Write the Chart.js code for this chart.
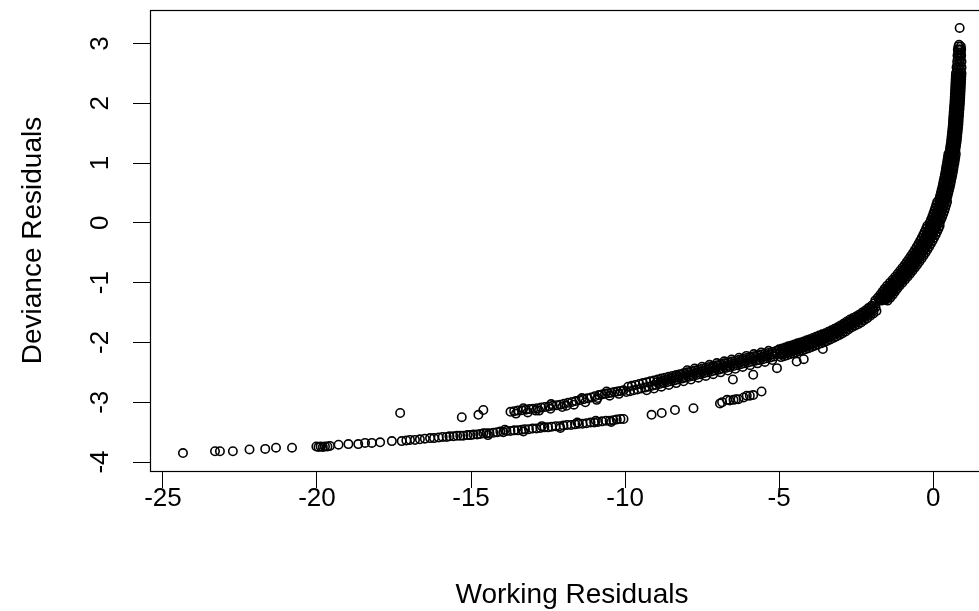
<!DOCTYPE html>
<html>
<head>
<meta charset="utf-8">
<script src="https://cdn.jsdelivr.net/npm/chart.js@4.4.1/dist/chart.umd.min.js"></script>
<style>
  html, body { margin: 0; padding: 0; background: #fff; overflow: hidden; }
  #wrap { width: 1000px; height: 611px; }
</style>
</head>
<body>
<div id="wrap"><canvas id="c" width="1000" height="611"></canvas></div>
<script>
// Axis ticks and limits
const xTicks = [-25, -20, -15, -10, -5, 0];
const yTicks = [-4, -3, -2, -1, 0, 1, 2, 3];
const xLimits = [-25.42, 1.975];
const yLimits = [-4.15, 3.56];

// [working residual, deviance residual] pairs, grouped by region of the cloud
const lowerTail = [
  [-24.35,-3.85],[-23.31,-3.82],[-23.15,-3.82],[-22.73,-3.82],[-22.19,-3.79],[-21.68,-3.78],
  [-21.33,-3.76],[-20.81,-3.76],[-20.02,-3.74],[-19.95,-3.75],[-19.88,-3.74],[-19.81,-3.75],
  [-19.74,-3.74],[-19.66,-3.74],[-19.58,-3.73],[-19.30,-3.71],[-18.98,-3.70],[-18.66,-3.70],
  [-18.44,-3.68],[-18.22,-3.68],[-17.95,-3.67],[-17.57,-3.65],[-17.25,-3.65],[-17.10,-3.64],
  [-16.98,-3.63],[-16.82,-3.63],[-16.66,-3.62],[-16.50,-3.61],[-16.33,-3.60]
];

const lowerBranch = [
  [-16.20,-3.60],[-16.05,-3.59],[-15.92,-3.58],[-15.79,-3.58],[-15.70,-3.57],[-15.57,-3.57],
  [-15.45,-3.56],[-15.35,-3.56],[-15.25,-3.56],[-15.12,-3.55],[-15.02,-3.55],[-14.92,-3.54],
  [-14.80,-3.54],[-14.70,-3.53],[-14.60,-3.52],[-14.50,-3.52],[-14.40,-3.52],[-14.27,-3.51],
  [-14.15,-3.50],[-14.05,-3.49],[-13.95,-3.50],[-13.85,-3.48],[-13.72,-3.48],[-13.60,-3.47],
  [-13.48,-3.47],[-13.35,-3.46],[-13.25,-3.45],[-13.12,-3.45],[-13.00,-3.44],[-12.88,-3.44],
  [-12.75,-3.43],[-12.62,-3.42],[-12.50,-3.42],[-12.38,-3.41],[-12.25,-3.40],[-12.12,-3.40],
  [-12.00,-3.39],[-11.88,-3.38],[-11.75,-3.38],[-11.62,-3.37],[-11.50,-3.36],[-11.38,-3.36],
  [-11.25,-3.35],[-11.12,-3.34],[-11.00,-3.34],[-10.88,-3.33],[-10.75,-3.32],[-10.62,-3.31],
  [-10.50,-3.31],[-10.38,-3.30],[-10.27,-3.29],[-10.15,-3.28],[-10.05,-3.28],
  [-14.45,-3.55],[-13.90,-3.46],[-13.30,-3.49],[-12.70,-3.40],[-12.10,-3.43],[-11.55,-3.34],
  [-10.95,-3.31],[-10.45,-3.33]
];

const lowerSplit = [
  [-9.14,-3.21],[-8.81,-3.18],[-8.38,-3.13],[-7.78,-3.10],[-6.92,-3.02],[-6.85,-3.00],
  [-6.69,-2.96],[-6.60,-2.97],[-6.48,-2.96],[-6.40,-2.95],[-6.32,-2.95],[-6.15,-2.92],
  [-6.05,-2.89],[-5.95,-2.89],[-5.84,-2.88],[-5.57,-2.82]
];

const upperBranch = [
  [-13.72,-3.16],[-13.60,-3.15],[-13.48,-3.14],[-13.35,-3.135],[-13.22,-3.125],[-13.10,-3.115],
  [-12.98,-3.11],[-12.85,-3.10],[-12.72,-3.09],[-12.60,-3.08],[-12.48,-3.07],[-12.35,-3.06],
  [-12.22,-3.05],[-12.10,-3.04],[-11.98,-3.025],[-11.85,-3.01],[-11.72,-2.995],[-11.60,-2.98],
  [-11.48,-2.965],[-11.35,-2.95],[-11.22,-2.935],[-11.10,-2.92],[-10.98,-2.90],[-10.85,-2.88],
  [-10.75,-2.87],[-10.65,-2.86],[-10.55,-2.85],[-10.45,-2.84],[-10.35,-2.83],[-10.25,-2.82],
  [-10.15,-2.81],[-10.05,-2.80],
  [-13.30,-3.10],[-12.90,-3.14],[-12.40,-3.03],[-11.90,-3.06],[-11.40,-2.93],[-10.90,-2.93],
  [-10.60,-2.82],
  [-13.54,-3.19],[-13.16,-3.17],[-12.79,-3.14],[-12.42,-3.11],[-12.04,-3.08],[-11.66,-3.04],
  [-11.29,-3.00],[-10.92,-2.96],[-10.50,-2.89],[-10.20,-2.86]
];

const upperBand = [
  [-5.10,-2.145],[-5.16,-2.235],[-5.22,-2.16],[-5.28,-2.25],[-5.34,-2.175],[-5.40,-2.265],
  [-5.46,-2.19],[-5.52,-2.28],[-5.58,-2.205],[-5.64,-2.295],[-5.70,-2.215],[-5.76,-2.305],
  [-5.82,-2.23],[-5.88,-2.32],[-5.94,-2.245],[-6.00,-2.335],[-6.06,-2.26],[-6.12,-2.35],
  [-6.18,-2.275],[-6.24,-2.365],[-6.30,-2.29],[-6.36,-2.38],[-6.42,-2.305],[-6.48,-2.395],
  [-6.54,-2.32],[-6.60,-2.41],[-6.66,-2.335],[-6.72,-2.425],[-6.78,-2.35],[-6.84,-2.44],
  [-6.90,-2.365],[-6.96,-2.455],[-7.02,-2.38],[-7.08,-2.47],[-7.14,-2.395],[-7.20,-2.485],
  [-7.26,-2.41],[-7.32,-2.50],[-7.38,-2.425],[-7.44,-2.515],[-7.50,-2.44],[-7.56,-2.53],
  [-7.62,-2.455],[-7.68,-2.545],[-7.74,-2.47],[-7.80,-2.56],[-7.86,-2.485],[-7.92,-2.575],
  [-7.98,-2.50],[-8.04,-2.59],[-8.10,-2.515],[-8.16,-2.605],[-8.22,-2.53],[-8.28,-2.62],
  [-8.34,-2.545],[-8.40,-2.635],[-8.46,-2.56],[-8.52,-2.65],[-8.58,-2.575],[-8.64,-2.665],
  [-8.70,-2.59],[-8.76,-2.68],[-8.82,-2.605],[-8.88,-2.695],[-8.94,-2.62],[-9.00,-2.71],
  [-9.06,-2.635],[-9.12,-2.725],[-9.18,-2.65],[-9.24,-2.74],[-9.30,-2.665],[-9.36,-2.755],
  [-9.42,-2.68],[-9.48,-2.77],[-9.54,-2.695],[-9.60,-2.785],[-9.66,-2.71],[-9.72,-2.80],
  [-9.78,-2.725],[-9.84,-2.815],[-9.90,-2.74],[-9.96,-2.83],
  [-5.13,-2.19],[-5.25,-2.205],[-5.37,-2.22],[-5.49,-2.235],[-5.61,-2.25],[-5.73,-2.26],
  [-5.85,-2.275],[-5.97,-2.29],[-6.09,-2.305],[-6.21,-2.32],[-6.33,-2.335],[-6.45,-2.35],
  [-6.57,-2.365],[-6.69,-2.38],[-6.81,-2.395],[-6.93,-2.41],[-7.05,-2.425],[-7.17,-2.44],
  [-7.29,-2.455],[-7.41,-2.47],[-7.53,-2.485],[-7.65,-2.50],[-7.77,-2.515],[-7.89,-2.53],
  [-8.01,-2.545],[-8.13,-2.56],[-8.25,-2.575],[-8.37,-2.59],[-8.49,-2.605],[-8.61,-2.62],
  [-8.73,-2.635],[-8.85,-2.65],[-8.97,-2.665],
  [-5.22,-2.295],[-5.46,-2.325],[-5.70,-2.35],[-5.94,-2.38],[-6.18,-2.41],[-6.42,-2.44],
  [-6.66,-2.47],[-6.90,-2.50],[-7.14,-2.53],[-7.38,-2.56],[-7.62,-2.59],[-7.86,-2.62],
  [-8.10,-2.65],[-8.34,-2.68],[-8.58,-2.71],[-8.82,-2.74],[-9.06,-2.77],[-9.30,-2.80],
  [-5.34,-2.14],[-5.58,-2.17],[-5.82,-2.195],[-6.06,-2.225],[-6.30,-2.255],[-6.54,-2.285],
  [-6.78,-2.315],[-7.02,-2.345],[-7.26,-2.375],[-7.50,-2.405],[-7.74,-2.435],[-7.98,-2.465]
];

const bendBand = [
  [-1.90,-1.345],[-1.87,-1.41],[-1.84,-1.475],[-2.00,-1.385],[-1.97,-1.45],[-1.94,-1.515],
  [-2.10,-1.425],[-2.07,-1.49],[-2.04,-1.555],[-2.20,-1.465],[-2.17,-1.53],[-2.14,-1.595],
  [-2.30,-1.50],[-2.27,-1.565],[-2.24,-1.63],[-2.40,-1.535],[-2.37,-1.60],[-2.34,-1.665],
  [-2.50,-1.565],[-2.47,-1.63],[-2.44,-1.695],[-2.60,-1.59],[-2.57,-1.655],[-2.54,-1.72],
  [-2.70,-1.615],[-2.67,-1.68],[-2.64,-1.745],[-2.80,-1.65],[-2.77,-1.715],[-2.74,-1.78],
  [-2.90,-1.685],[-2.87,-1.75],[-2.84,-1.815],[-3.00,-1.715],[-2.97,-1.78],[-2.94,-1.845],
  [-3.10,-1.745],[-3.07,-1.81],[-3.04,-1.875],[-3.20,-1.77],[-3.17,-1.835],[-3.14,-1.90],
  [-3.30,-1.795],[-3.27,-1.86],[-3.24,-1.925],[-3.40,-1.82],[-3.37,-1.885],[-3.34,-1.95],
  [-3.50,-1.845],[-3.47,-1.91],[-3.44,-1.975],[-3.60,-1.865],[-3.57,-1.93],[-3.54,-1.995],
  [-3.70,-1.885],[-3.67,-1.95],[-3.64,-2.015],[-3.80,-1.905],[-3.77,-1.97],[-3.74,-2.035],
  [-3.90,-1.925],[-3.87,-1.99],[-3.84,-2.055],[-4.00,-1.945],[-3.97,-2.01],[-3.94,-2.075],
  [-4.10,-1.965],[-4.07,-2.03],[-4.04,-2.095],[-4.20,-1.985],[-4.17,-2.05],[-4.14,-2.115],
  [-4.30,-2.00],[-4.27,-2.065],[-4.24,-2.13],[-4.40,-2.015],[-4.37,-2.08],[-4.34,-2.145],
  [-4.50,-2.035],[-4.47,-2.10],[-4.44,-2.165],[-4.60,-2.05],[-4.57,-2.115],[-4.54,-2.18],
  [-4.70,-2.065],[-4.67,-2.13],[-4.64,-2.195],[-4.80,-2.085],[-4.77,-2.15],[-4.74,-2.215],
  [-4.90,-2.10],[-4.87,-2.165],[-4.84,-2.23],[-5.00,-2.115],[-4.97,-2.18],[-4.94,-2.245],
  [-1.95,-1.398],[-1.93,-1.462],[-2.05,-1.438],[-2.03,-1.502],[-2.15,-1.478],[-2.13,-1.542],
  [-2.25,-1.515],[-2.23,-1.58],[-2.35,-1.55],[-2.33,-1.615],[-2.45,-1.583],[-2.43,-1.647],
  [-2.55,-1.61],[-2.53,-1.675],[-2.65,-1.635],[-2.63,-1.70],[-2.75,-1.665],[-2.73,-1.73],
  [-2.85,-1.70],[-2.83,-1.765],[-2.95,-1.733],[-2.93,-1.797],[-3.05,-1.763],[-3.03,-1.827],
  [-3.15,-1.79],[-3.13,-1.855],[-3.25,-1.815],[-3.23,-1.88],[-3.35,-1.84],[-3.33,-1.905],
  [-3.45,-1.865],[-3.43,-1.93],[-3.55,-1.888],[-3.53,-1.952],[-3.65,-1.908],[-3.63,-1.972],
  [-3.75,-1.928],[-3.73,-1.992],[-3.85,-1.948],[-3.83,-2.012],[-3.95,-1.968],[-3.93,-2.032],
  [-4.05,-1.988],[-4.03,-2.052],[-4.15,-2.008],[-4.13,-2.072],[-4.25,-2.025],[-4.23,-2.09],
  [-4.35,-2.04],[-4.33,-2.105],[-4.45,-2.058],[-4.43,-2.122],[-4.55,-2.075],[-4.53,-2.14],
  [-4.65,-2.09],[-4.63,-2.155],[-4.75,-2.108],[-4.73,-2.172],[-4.85,-2.125],[-4.83,-2.19],
  [-4.95,-2.14],[-4.93,-2.205]
];

const steepBand = [
  [0.82,2.95],[0.90,2.95],[0.84,2.98],
  [0.80,2.90],[0.86,2.90],[0.91,2.90],[0.81,2.85],[0.90,2.85],
  [0.79,2.80],[0.85,2.80],[0.91,2.80],[0.80,2.75],[0.89,2.75],
  [0.78,2.70],[0.85,2.70],[0.92,2.70],[0.79,2.65],[0.88,2.65],
  [0.76,2.60],[0.84,2.60],[0.92,2.60],[0.78,2.55],[0.89,2.55],
  [0.74,2.50],[0.83,2.50],[0.92,2.50],[0.735,2.45],[0.825,2.45],[0.915,2.45],
  [0.73,2.40],[0.82,2.40],[0.91,2.40],[0.725,2.35],[0.815,2.35],[0.905,2.35],
  [0.72,2.30],[0.81,2.30],[0.90,2.30],[0.715,2.25],[0.805,2.25],[0.895,2.25],
  [0.71,2.20],[0.80,2.20],[0.89,2.20],[0.705,2.15],[0.795,2.15],[0.885,2.15],
  [0.70,2.10],[0.79,2.10],[0.88,2.10],[0.695,2.05],[0.785,2.05],[0.875,2.05],
  [0.69,2.00],[0.78,2.00],[0.87,2.00],[0.68,1.95],[0.77,1.95],[0.86,1.95],
  [0.675,1.90],[0.765,1.90],[0.855,1.90],[0.665,1.85],[0.755,1.85],[0.845,1.85],
  [0.66,1.80],[0.75,1.80],[0.84,1.80],[0.65,1.75],[0.74,1.75],[0.83,1.75],
  [0.645,1.70],[0.735,1.70],[0.825,1.70],[0.64,1.65],[0.73,1.65],[0.82,1.65],
  [0.63,1.60],[0.72,1.60],[0.81,1.60],[0.62,1.55],[0.71,1.55],[0.80,1.55],
  [0.61,1.50],[0.70,1.50],[0.79,1.50],[0.60,1.45],[0.69,1.45],[0.78,1.45],
  [0.59,1.40],[0.68,1.40],[0.77,1.40],[0.58,1.35],[0.67,1.35],[0.76,1.35],
  [0.565,1.30],[0.655,1.30],[0.745,1.30],[0.55,1.25],[0.64,1.25],[0.73,1.25],
  [0.54,1.20],[0.63,1.20],[0.72,1.20],[0.495,1.15],[0.615,1.15],[0.735,1.15],
  [0.48,1.10],[0.60,1.10],[0.72,1.10],[0.465,1.05],[0.585,1.05],[0.705,1.05],
  [0.45,1.00],[0.57,1.00],[0.69,1.00],[0.43,0.95],[0.55,0.95],[0.67,0.95],
  [0.415,0.90],[0.535,0.90],[0.655,0.90],[0.40,0.85],[0.52,0.85],[0.64,0.85],
  [0.38,0.80],[0.50,0.80],[0.62,0.80],[0.36,0.75],[0.48,0.75],[0.60,0.75],
  [0.34,0.70],[0.46,0.70],[0.58,0.70],[0.32,0.65],[0.44,0.65],[0.56,0.65],
  [0.30,0.60],[0.42,0.60],[0.54,0.60],[0.275,0.55],[0.395,0.55],[0.515,0.55],
  [0.25,0.50],[0.37,0.50],[0.49,0.50],[0.225,0.45],[0.345,0.45],[0.465,0.45],
  [0.20,0.40],[0.32,0.40],[0.44,0.40],[0.13,0.35],[0.29,0.35],[0.45,0.35],
  [0.10,0.30],[0.26,0.30],[0.42,0.30],[0.07,0.25],[0.23,0.25],[0.39,0.25],
  [0.04,0.20],[0.20,0.20],[0.36,0.20],[0.005,0.15],[0.165,0.15],[0.325,0.15],
  [-0.03,0.10],[0.13,0.10],[0.29,0.10],[-0.07,0.05],[0.09,0.05],[0.25,0.05],
  [-0.11,0.00],[0.05,0.00],[0.21,0.00],[-0.19,-0.05],[0.01,-0.05],[0.21,-0.05],
  [-0.23,-0.10],[-0.03,-0.10],[0.17,-0.10],[-0.275,-0.15],[-0.075,-0.15],[0.125,-0.15],
  [-0.32,-0.20],[-0.12,-0.20],[0.08,-0.20],[-0.37,-0.25],[-0.17,-0.25],[0.03,-0.25],
  [-0.42,-0.30],[-0.22,-0.30],[-0.02,-0.30],[-0.475,-0.35],[-0.275,-0.35],[-0.075,-0.35],
  [-0.53,-0.40],[-0.33,-0.40],[-0.13,-0.40],[-0.59,-0.45],[-0.39,-0.45],[-0.19,-0.45],
  [-0.65,-0.50],[-0.45,-0.50],[-0.25,-0.50],[-0.715,-0.55],[-0.515,-0.55],[-0.315,-0.55],
  [-0.78,-0.60],[-0.58,-0.60],[-0.38,-0.60],[-0.85,-0.65],[-0.65,-0.65],[-0.45,-0.65],
  [-0.92,-0.70],[-0.72,-0.70],[-0.52,-0.70],[-0.995,-0.75],[-0.795,-0.75],[-0.595,-0.75],
  [-1.07,-0.80],[-0.87,-0.80],[-0.67,-0.80],[-1.15,-0.85],[-0.95,-0.85],[-0.75,-0.85],
  [-1.23,-0.90],[-1.03,-0.90],[-0.83,-0.90],[-1.315,-0.95],[-1.115,-0.95],[-0.915,-0.95],
  [-1.40,-1.00],[-1.20,-1.00],[-1.00,-1.00],[-1.49,-1.05],[-1.29,-1.05],[-1.09,-1.05],
  [-1.57,-1.10],[-1.37,-1.10],[-1.17,-1.10],[-1.64,-1.15],[-1.44,-1.15],[-1.24,-1.15],
  [-1.71,-1.20],[-1.51,-1.20],[-1.31,-1.20],[-1.79,-1.25],[-1.59,-1.25],[-1.39,-1.25],
  [-1.88,-1.30],[-1.68,-1.30],[-1.48,-1.30],
  [0.78,2.475],[0.87,2.475],[0.78,2.425],[0.87,2.425],[0.77,2.375],[0.86,2.375],
  [0.77,2.325],[0.86,2.325],[0.76,2.275],[0.85,2.275],[0.76,2.225],[0.85,2.225],
  [0.75,2.175],[0.84,2.175],[0.75,2.125],[0.84,2.125],[0.74,2.075],[0.83,2.075],
  [0.74,2.025],[0.83,2.025],[0.73,1.975],[0.82,1.975],[0.72,1.925],[0.81,1.925],
  [0.715,1.875],[0.805,1.875],[0.71,1.825],[0.80,1.825],[0.70,1.775],[0.79,1.775],
  [0.69,1.725],[0.78,1.725],[0.69,1.675],[0.78,1.675],[0.68,1.625],[0.77,1.625],
  [0.67,1.575],[0.76,1.575],[0.66,1.525],[0.75,1.525],[0.65,1.475],[0.74,1.475],
  [0.64,1.425],[0.73,1.425],[0.63,1.375],[0.72,1.375],[0.62,1.325],[0.71,1.325],
  [0.60,1.275],[0.69,1.275],[0.59,1.225],[0.68,1.225],[0.56,1.175],[0.68,1.175],
  [0.55,1.125],[0.67,1.125],[0.53,1.075],[0.65,1.075],[0.52,1.025],[0.64,1.025],
  [0.50,0.975],[0.62,0.975],[0.48,0.925],[0.60,0.925],[0.47,0.875],[0.59,0.875],
  [0.45,0.825],[0.57,0.825],[0.43,0.775],[0.55,0.775],[0.41,0.725],[0.53,0.725],
  [0.39,0.675],[0.51,0.675],[0.37,0.625],[0.49,0.625],[0.35,0.575],[0.47,0.575],
  [0.32,0.525],[0.44,0.525],[0.30,0.475],[0.42,0.475],[0.27,0.425],[0.39,0.425],
  [0.225,0.375],[0.385,0.375],[0.195,0.325],[0.355,0.325],[0.165,0.275],[0.325,0.275],
  [0.135,0.225],[0.295,0.225],[0.10,0.175],[0.26,0.175],[0.07,0.125],[0.23,0.125],
  [0.03,0.075],[0.19,0.075],[-0.01,0.025],[0.15,0.025],[-0.07,-0.025],[0.13,-0.025],
  [-0.11,-0.075],[0.09,-0.075],[-0.15,-0.125],[0.05,-0.125],[-0.20,-0.175],[0.00,-0.175],
  [-0.245,-0.225],[-0.045,-0.225],[-0.295,-0.275],[-0.095,-0.275],[-0.35,-0.325],[-0.15,-0.325],
  [-0.40,-0.375],[-0.20,-0.375],[-0.46,-0.425],[-0.26,-0.425],[-0.52,-0.475],[-0.32,-0.475],
  [-0.58,-0.525],[-0.38,-0.525],[-0.65,-0.575],[-0.45,-0.575],[-0.715,-0.625],[-0.515,-0.625],
  [-0.785,-0.675],[-0.585,-0.675],[-0.86,-0.725],[-0.66,-0.725],[-0.93,-0.775],[-0.73,-0.775],
  [-1.01,-0.825],[-0.81,-0.825],[-1.09,-0.875],[-0.89,-0.875],[-1.17,-0.925],[-0.97,-0.925],
  [-1.26,-0.975],[-1.06,-0.975],[-1.345,-1.025],[-1.145,-1.025],[-1.43,-1.075],[-1.23,-1.075],
  [-1.505,-1.125],[-1.305,-1.125],[-1.575,-1.175],[-1.375,-1.175],[-1.65,-1.225],[-1.45,-1.225],
  [-1.735,-1.275],[-1.535,-1.275]
];

// Extra density along the diagonal stretch of the curve
const diagonalBand = [
  [-1.758,-1.2875],[-1.513,-1.2625],[-1.67,-1.2375],[-1.43,-1.2125],[-1.593,-1.1875],[-1.358,-1.1625],
  [-1.5225,-1.1375],[-1.2875,-1.1125],[-1.45,-1.0875],[-1.21,-1.0625],[-1.3675,-1.0375],[-1.1225,-1.0125],
  [-1.279,-0.9875],[-1.036,-0.9625],[-1.194,-0.9375],[-0.951,-0.9125],[-1.11,-0.8875],[-0.87,-0.8625],
  [-1.03,-0.8375],[-0.79,-0.8125],[-0.951,-0.7875],[-0.714,-0.7625],[-0.876,-0.7375],[-0.639,-0.7125],
  [-0.8025,-0.6875],[-0.5675,-0.6625],[-0.7325,-0.6375],[-0.4975,-0.6125],[-0.664,-0.5875],[-0.431,-0.5625],
  [-0.599,-0.5375],[-0.366,-0.5125],[-0.535,-0.4875],[-0.305,-0.4625],[-0.475,-0.4375],[-0.245,-0.4125],
  [-0.416,-0.3875],[-0.189,-0.3625],[-0.361,-0.3375],[-0.134,-0.3125],[-0.3075,-0.2875],[-0.0825,-0.2625],
  [-0.2575,-0.2375],[-0.0325,-0.2125],[-0.209,-0.1875],[0.014,-0.1625],[-0.164,-0.1375],[0.059,-0.1125],
  [-0.12,-0.0875],[0.10,-0.0625],[-0.08,-0.0375],[0.14,-0.0125],
  [-1.558,-1.2875],[-1.713,-1.2625],[-1.47,-1.2375],[-1.63,-1.2125],[-1.393,-1.1875],[-1.558,-1.1625],
  [-1.3225,-1.1375],[-1.4875,-1.1125],[-1.25,-1.0875],[-1.41,-1.0625],[-1.1675,-1.0375],[-1.3225,-1.0125],
  [-1.079,-0.9875],[-1.236,-0.9625],[-0.994,-0.9375],[-1.151,-0.9125],[-0.91,-0.8875],[-1.07,-0.8625],
  [-0.83,-0.8375],[-0.99,-0.8125],[-0.751,-0.7875],[-0.914,-0.7625],[-0.676,-0.7375],[-0.839,-0.7125],
  [-0.6025,-0.6875],[-0.7675,-0.6625],[-0.5325,-0.6375],[-0.6975,-0.6125],[-0.464,-0.5875],[-0.631,-0.5625],
  [-0.399,-0.5375],[-0.566,-0.5125]
];

const strays = [
  [-17.30,-3.18],[-15.30,-3.25],[-14.76,-3.21],[-14.60,-3.13],[-6.50,-2.62],[-5.84,-2.54],
  [-5.07,-2.43],[-4.43,-2.32],[-4.20,-2.28],[-3.58,-2.11],[0.86,3.26]
];

const residuals = [].concat(lowerTail, lowerBranch, lowerSplit, upperBranch, upperBand,
  bendBand, steepBand, diagonalBand, strays).map(([x, y]) => ({ x, y }));

const FONT = '"Liberation Sans", Arial, Helvetica, sans-serif';

// Full frame around the plotting region
const plotBox = {
  id: 'plotBox',
  afterDatasetsDraw(chart) {
    const { ctx, chartArea: a } = chart;
    ctx.save();
    ctx.strokeStyle = '#000';
    ctx.lineWidth = 1.2;
    ctx.strokeRect(a.left + 0.5, a.top + 0.5, a.right - a.left, a.bottom - a.top);
    ctx.restore();
  }
};

new Chart(document.getElementById('c'), {
  type: 'scatter',
  data: {
    datasets: [{
      data: residuals,
      pointRadius: 4.2,
      pointHoverRadius: 4.2,
      pointBorderWidth: 1.6,
      pointBorderColor: '#000',
      pointBackgroundColor: 'rgba(0,0,0,0)',
      showLine: false
    }]
  },
  options: {
    responsive: false,
    animation: false,
    devicePixelRatio: 1,
    events: [],
    layout: { padding: { left: 0, top: 10, right: 6, bottom: 0 } },
    plugins: { legend: { display: false }, tooltip: { enabled: false } },
    scales: {
      x: {
        type: 'linear',
        min: xLimits[0],
        max: xLimits[1],
        afterBuildTicks: s => { s.ticks = xTicks.map(v => ({ value: v })); },
        afterFit: s => { s.height = 140; s.paddingLeft = 0; s.paddingRight = 0; },
        grid: { drawOnChartArea: false, drawTicks: true, tickLength: 17, color: '#000', tickColor: '#000', lineWidth: 1 },
        border: { display: false },
        ticks: {
          color: '#000', autoSkip: false, maxRotation: 0, minRotation: 0, padding: -2,
          font: { family: FONT, size: 26, lineHeight: 1 },
          callback: v => String(v)
        },
        title: {
          display: true, text: 'Working Residuals', color: '#000',
          font: { family: FONT, size: 28, lineHeight: 1 },
          padding: { top: 0, bottom: 2 }
        }
      },
      y: {
        type: 'linear',
        min: yLimits[0],
        max: yLimits[1],
        afterBuildTicks: s => { s.ticks = yTicks.map(v => ({ value: v })); },
        afterFit: s => { s.width = 150; s.paddingTop = 0; s.paddingBottom = 0; },
        grid: { drawOnChartArea: false, drawTicks: true, tickLength: 17, color: '#000', tickColor: '#000', lineWidth: 1 },
        border: { display: false },
        ticks: {
          color: '#000', autoSkip: false, minRotation: 90, maxRotation: 90, crossAlign: 'center', padding: 21,
          font: { family: FONT, size: 26, lineHeight: 1 },
          callback: v => String(v)
        },
        title: {
          display: true, text: 'Deviance Residuals', color: '#000',
          font: { family: FONT, size: 28, lineHeight: 1 },
          padding: { top: 19, bottom: 0 }
        }
      }
    }
  },
  plugins: [plotBox]
});
</script>
</body>
</html>
